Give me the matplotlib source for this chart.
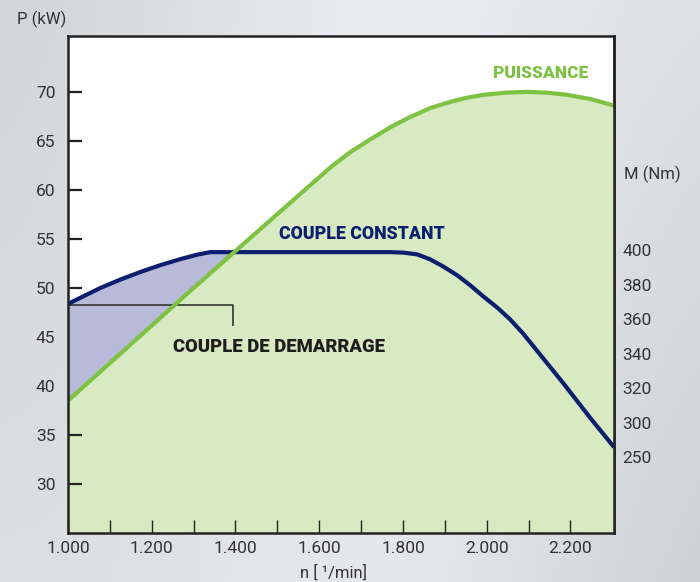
import numpy as np
import matplotlib
matplotlib.use("Agg")
import matplotlib.pyplot as plt
from matplotlib import font_manager as fm

# ---------------- data ----------------
power_rpm = [1000, 1300, 1531, 1579, 1627, 1674, 1722, 1770, 1818, 1865, 1913, 1952, 1992, 2045, 2097, 2145, 2192, 2250, 2304]
power_kw = [38.5, 50.0, 58.7, 60.5, 62.3, 63.85, 65.15, 66.4, 67.45, 68.35, 68.98, 69.4, 69.7, 69.92, 70.0, 69.92, 69.7, 69.25, 68.6]

torque_rpm = [1000, 1040, 1078, 1125, 1173, 1221, 1269, 1310, 1340, 1770, 1801, 1834, 1865, 1896, 1930, 1961, 1992, 2025, 2056, 2087, 2121, 2183, 2247, 2304]
torque_nm = [369, 373.8, 378.3, 383.1, 387.5, 391.5, 395, 397.6, 399, 399, 398.7, 397.7, 394.8, 390.7, 385.5, 379.7, 373.3, 366.9, 360, 351.8, 341.6, 323, 303, 286]

x_ticks = [1000, 1200, 1400, 1600, 1800, 2000, 2200]
x_labels = ["1.000", "1.200", "1.400", "1.600", "1.800", "2.000", "2.200"]
p_ticks = [30, 35, 40, 45, 50, 55, 60, 65, 70]
m_ticks = [400, 380, 360, 340, 320, 300, 280]
m_labels = ["400", "380", "360", "340", "320", "300", "250"]

# ---------------- fonts ----------------
avail = {f.name for f in fm.fontManager.ttflist}
num_font = ["Roboto", "DejaVu Sans"] if "Roboto" in avail else ["DejaVu Sans"]
bold_font = num_font

GREEN = "#7dc243"
GREEN_FILL = "#d7eac2"
NAVY = "#0c1e6e"
BLUE_FILL = "#b7bad9"
DARK = "#222222"
TXT = "#333333"

# torque (Nm) <-> power axis (kW) mapping, linear
def m2p(m):
    return -16.58 + 0.17602 * np.asarray(m, dtype=float)

def p2m(p):
    return (np.asarray(p, dtype=float) + 16.58) / 0.17602

fig = plt.figure(figsize=(7.0, 5.82), dpi=100)

# background gradient
bg = fig.add_axes([0, 0, 1, 1], zorder=-10)
xx = np.linspace(0, 1, 300)
yy = np.linspace(0, 1, 250)
X, Y = np.meshgrid(xx, yy)
base = 0.86 + 0.07 * np.exp(-((X - 0.55) / 0.35) ** 2) - 0.06 * X * Y - 0.04 * (1 - X) * (1 - Y)
img = np.dstack([base, base + 0.01, base + 0.02])
img = np.clip(img, 0, 1)
bg.imshow(img, extent=[0, 1, 0, 1], aspect="auto", origin="upper")
bg.axis("off")

ax = fig.add_axes([68 / 700, 1 - 533 / 582, (614 - 68) / 700, (533 - 36) / 582])
ax.set_facecolor("white")
ax.set_xlim(1000, 2304)
ax.set_ylim(25.0, 75.7)

# green area under power
ax.fill_between(power_rpm, power_kw, 25.0, color=GREEN_FILL, zorder=1, lw=0)

# blue region between torque and power
grid = np.linspace(1000, 1450, 300)
tp = m2p(np.interp(grid, torque_rpm, torque_nm))
pp = np.interp(grid, power_rpm, power_kw)
ax.fill_between(grid, pp, tp, where=tp >= pp, interpolate=True, color=BLUE_FILL, zorder=2, lw=0)

# leader line for starting torque
y0 = m2p(torque_nm[0]) - 0.15
ax.plot([1000, 1395, 1395], [y0, y0, y0 - 2.1], color=TXT, lw=1.2, zorder=3, solid_capstyle="butt")

ax.plot(torque_rpm, m2p(torque_nm), color=NAVY, lw=3.0, zorder=4, solid_capstyle="butt",
        solid_joinstyle="round")
ax.plot(power_rpm, power_kw, color=GREEN, lw=3.0, zorder=5, solid_capstyle="butt",
        solid_joinstyle="round")

# ticks
ax.set_xticks(x_ticks)
ax.set_xticklabels(x_labels)
ax.set_xticks(np.arange(1100, 2300, 200), minor=True)
ax.tick_params(axis="x", which="both", direction="in", length=9.5, width=1.0, color=DARK,
               pad=6, labelsize=12.5, labelcolor=TXT)
ax.set_yticks(p_ticks)
ax.tick_params(axis="y", direction="in", length=10, width=1.6, color=DARK,
               pad=9, labelsize=12.5, labelcolor=TXT)
for lab in ax.get_xticklabels() + ax.get_yticklabels():
    lab.set_family(num_font)

for s in ax.spines.values():
    s.set_color(DARK)
    s.set_linewidth(1.8)
    s.set_zorder(10)

sec = ax.secondary_yaxis("right", functions=(p2m, m2p))
sec.set_yticks(m_ticks)
sec.set_yticklabels(m_labels)
sec.tick_params(axis="y", direction="in", length=10, width=1.6, color=DARK,
                pad=6, labelsize=12.5, labelcolor=TXT)
sec.spines["right"].set_color(DARK)
sec.spines["right"].set_linewidth(1.8)
for lab in sec.get_yticklabels():
    lab.set_family(num_font)

# axis labels
fig.text(17 / 700, 1 - 19 / 582, "P (kW)", ha="left", va="center", fontsize=12, color=TXT, family=num_font)
fig.text(652 / 700, 1 - 174 / 582, "M (Nm)", ha="center", va="center", fontsize=12, color=TXT, family=num_font)
fig.text(333 / 700, 1 - 573 / 582, "n [ \u00b9/min]", ha="center", va="center", fontsize=12, color=TXT, family=num_font)

# annotations
def py(pix):
    return 70 - (pix - 92) / 9.8

ax.text(2129, py(73), "PUISSANCE", ha="center", va="center",
        fontsize=12.5, fontweight="heavy", color=GREEN, family=bold_font, zorder=6)
ax.text(1703, py(234), "COUPLE CONSTANT", ha="center", va="center",
        fontsize=12.8, fontweight="heavy", color=NAVY, family=bold_font, zorder=6)
ax.text(1505, py(347), "COUPLE DE DEMARRAGE", ha="center", va="center",
        fontsize=13.3, fontweight="heavy", color="#1e1e1e", family=bold_font, zorder=6)

fig.savefig("out.png", dpi=100)
